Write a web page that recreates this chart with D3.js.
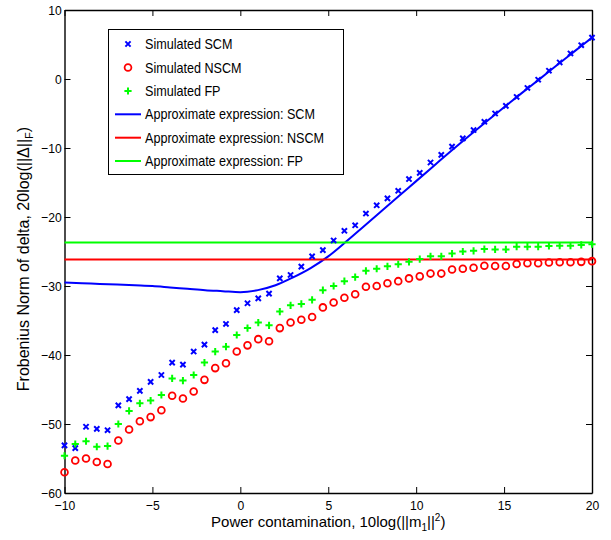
<!DOCTYPE html>
<html>
<head>
<meta charset="utf-8">
<script src="https://cdn.jsdelivr.net/npm/d3@7/dist/d3.min.js"></script>
<style>
  html, body { margin: 0; padding: 0; background: #fff; }
  svg { display: block; font-family: "Liberation Sans", Arial, Helvetica, sans-serif; }
</style>
</head>
<body>
<svg id="chart" width="611" height="540"></svg>
<script>
// Power contamination grid (dB), 50 samples from -10 to 20
const powerDb = [
  -10, -9.388, -8.776, -8.163, -7.551, -6.939, -6.327, -5.714, -5.102, -4.490,
  -3.878, -3.265, -2.653, -2.041, -1.429, -0.816, -0.204, 0.408, 1.020, 1.633,
  2.245, 2.857, 3.469, 4.082, 4.694, 5.306, 5.918, 6.531, 7.143, 7.755,
  8.367, 8.980, 9.592, 10.204, 10.816, 11.429, 12.041, 12.653, 13.265, 13.878,
  14.490, 15.102, 15.714, 16.327, 16.939, 17.551, 18.163, 18.776, 19.388, 20
];

// Simulated Frobenius norm of delta (dB)
const simSCM = [
  -53.1, -53.5, -50.4, -50.7, -50.9, -47.3, -46.4, -45.2, -43.9, -42.9,
  -41.1, -41.4, -39.5, -38.5, -36.4, -35.5, -33.5, -32.5, -31.8, -31.1,
  -28.9, -28.4, -27.2, -25.7, -24.8, -23.4, -22.0, -21.2, -19.5, -18.3,
  -17.3, -16.2, -14.5, -13.6, -12.1, -11.0, -9.8, -8.6, -7.4, -6.2,
  -5.0, -3.9, -2.6, -1.3, -0.1, 1.2, 2.4, 3.7, 4.9, 6.0
];
const simNSCM = [
  -57.0, -55.3, -55.0, -55.5, -55.8, -52.4, -50.8, -49.6, -49.0, -48.0,
  -45.9, -46.3, -45.3, -43.6, -41.9, -41.2, -39.5, -38.6, -37.7, -38.0,
  -36.1, -35.3, -34.9, -34.5, -33.1, -32.4, -31.7, -31.2, -30.1, -30.0,
  -29.6, -29.3, -28.9, -28.6, -28.2, -28.2, -27.6, -27.5, -27.35, -27.06,
  -27.1, -27.1, -26.8, -26.7, -26.7, -26.6, -26.55, -26.55, -26.5, -26.4
];
const simFP = [
  -54.6, -52.9, -52.5, -53.3, -53.2, -50.0, -48.1, -47.0, -46.6, -45.8,
  -43.4, -43.7, -42.9, -41.1, -39.5, -38.8, -37.1, -36.1, -35.3, -35.7,
  -33.7, -32.8, -32.6, -32.0, -30.6, -30.0, -29.3, -28.7, -27.8, -27.5,
  -27.15, -26.85, -26.5, -26.1, -25.7, -25.7, -25.3, -25.0, -24.9, -24.65,
  -24.7, -24.7, -24.3, -24.3, -24.3, -24.2, -24.15, -24.15, -24.05, -23.95
];

// Approximate expressions
const approxPowerDb = [
  -10, -9, -8, -7, -6, -5, -4, -3, -2, -1, 0, 1, 2, 3, 4, 5, 6, 7, 8, 9,
  10, 11, 12, 13, 14, 15, 16, 17, 18, 19, 20
];
const approxSCM = [
  -29.5, -29.6, -29.7, -29.8, -29.9, -30.0, -30.2, -30.4, -30.6, -30.75,
  -30.9, -30.6, -29.9, -28.75, -27.4, -25.7, -23.6, -21.4, -19.2, -17.0,
  -14.8, -12.6, -10.4, -8.25, -6.15, -4.1, -2.05, -0.05, 2.0, 4.0, 6.0
];
const approxNSCM = -26.15;
const approxFP = -23.68;

// Axis ticks
const xTicks = [-10, -5, 0, 5, 10, 15, 20];
const yTicks = [-60, -50, -40, -30, -20, -10, 0, 10];

const legendLabels = [
  "Simulated SCM", "Simulated NSCM", "Simulated FP",
  "Approximate expression: SCM", "Approximate expression: NSCM", "Approximate expression: FP"
];

const BLUE = "#0000ff", RED = "#ff0000", GREEN = "#00ff00";

const svg = d3.select("#chart");
const plot = { left: 64.5, right: 592, top: 10, bottom: 493 };

const x = d3.scaleLinear().domain([-10, 20]).range([plot.left, plot.right]);
const y = d3.scaleLinear().domain([-60, 10]).range([plot.bottom, plot.top]);

const fmt = d => (d < 0 ? "\u2212" + Math.abs(d) : String(d));

// Axes with inward ticks on all four sides
const gB = svg.append("g").attr("transform", `translate(0,${plot.bottom})`)
  .call(d3.axisBottom(x).tickValues(xTicks).tickSizeInner(-6).tickSizeOuter(0).tickPadding(7.5).tickFormat(fmt));
const gT = svg.append("g").attr("transform", `translate(0,${plot.top})`)
  .call(d3.axisTop(x).tickValues(xTicks).tickSizeInner(-6).tickSizeOuter(0).tickFormat(""));
const gL = svg.append("g").attr("transform", `translate(${plot.left},0)`)
  .call(d3.axisLeft(y).tickValues(yTicks).tickSizeInner(-6).tickSizeOuter(0).tickPadding(3).tickFormat(fmt));
const gR = svg.append("g").attr("transform", `translate(${plot.right},0)`)
  .call(d3.axisRight(y).tickValues(yTicks).tickSizeInner(-6).tickSizeOuter(0).tickFormat(""));

[gB, gT, gL, gR].forEach(g => {
  g.select(".domain").attr("stroke", "#000").attr("stroke-width", 1.4);
  g.selectAll(".tick line").attr("stroke", "#000").attr("stroke-width", 1);
  g.selectAll(".tick text").attr("fill", "#000").attr("font-size", 13.5)
    .attr("font-family", "Liberation Sans, Arial, sans-serif");
});
gB.selectAll(".tick text").attr("transform", "scale(0.9,1)");
gL.selectAll(".tick text").attr("transform", "scale(0.9,1)");

// Approximate expression curves
const lineGen = d3.line().x(d => x(d[0])).y(d => y(d[1])).curve(d3.curveMonotoneX);
const dataArea = svg.append("g");

dataArea.append("path")
  .datum(approxPowerDb.map((p, i) => [p, approxSCM[i]]))
  .attr("d", lineGen).attr("fill", "none").attr("stroke", BLUE).attr("stroke-width", 2);
dataArea.append("path")
  .datum([[-10, approxNSCM], [20, approxNSCM]])
  .attr("d", lineGen).attr("fill", "none").attr("stroke", RED).attr("stroke-width", 2);
dataArea.append("path")
  .datum([[-10, approxFP], [20, approxFP]])
  .attr("d", lineGen).attr("fill", "none").attr("stroke", GREEN).attr("stroke-width", 2);

// Marker drawing helpers
function crossMark(g, cx, cy) {
  const s = 2.6;
  g.append("path")
    .attr("d", `M${cx - s},${cy - s}L${cx + s},${cy + s}M${cx - s},${cy + s}L${cx + s},${cy - s}`)
    .attr("stroke", BLUE).attr("stroke-width", 2).attr("fill", "none");
}
function circleMark(g, cx, cy) {
  g.append("circle").attr("cx", cx).attr("cy", cy).attr("r", 3.4)
    .attr("stroke", RED).attr("stroke-width", 1.8).attr("fill", "none");
}
function plusMark(g, cx, cy) {
  const s = 3.6;
  g.append("path")
    .attr("d", `M${cx - s},${cy}L${cx + s},${cy}M${cx},${cy - s}L${cx},${cy + s}`)
    .attr("stroke", GREEN).attr("stroke-width", 2).attr("fill", "none");
}

const marks = svg.append("g");
powerDb.forEach((p, i) => crossMark(marks, x(p), y(simSCM[i])));
powerDb.forEach((p, i) => circleMark(marks, x(p), y(simNSCM[i])));
powerDb.forEach((p, i) => plusMark(marks, x(p), y(simFP[i])));

// Legend
const leg = svg.append("g");
leg.append("rect").attr("x", 108.5).attr("y", 29.5).attr("width", 235).attr("height", 145)
  .attr("fill", "#fff").attr("stroke", "#000").attr("stroke-width", 1);
const rowY = [44, 67.5, 91, 114.3, 137.7, 161];
crossMark(leg, 128, rowY[0]);
circleMark(leg, 128, rowY[1]);
plusMark(leg, 128, rowY[2]);
[BLUE, RED, GREEN].forEach((c, i) => {
  leg.append("line").attr("x1", 115).attr("x2", 141).attr("y1", rowY[3 + i]).attr("y2", rowY[3 + i])
    .attr("stroke", c).attr("stroke-width", 2);
});
legendLabels.forEach((t, i) => {
  leg.append("text").attr("x", 0).attr("y", 0)
    .attr("transform", `translate(145,${rowY[i]}) scale(0.9,1)`)
    .attr("dy", "0.36em").attr("font-size", 14).attr("fill", "#000").text(t);
});

// Axis titles
const xt = svg.append("text").attr("text-anchor", "middle").attr("font-size", 15)
  .attr("transform", `translate(${(plot.left + plot.right) / 2},527)`).attr("fill", "#000");
xt.append("tspan").text("Power contamination, 10log(||m");
xt.append("tspan").attr("font-size", 10).attr("dy", 4).text("1");
xt.append("tspan").attr("dy", -4).text("||");
xt.append("tspan").attr("font-size", 10).attr("dy", -6).text("2");
xt.append("tspan").attr("dy", 6).text(")");

const yt = svg.append("text").attr("text-anchor", "middle").attr("font-size", 16)
  .attr("transform", `translate(28.5,259) rotate(-90)`).attr("fill", "#000");
yt.append("tspan").text("Frobenius Norm of delta, 20log(||\u0394||");
yt.append("tspan").attr("font-size", 11).attr("dy", 4).text("F");
yt.append("tspan").attr("dy", -4).text(")");
</script>
</body>
</html>
